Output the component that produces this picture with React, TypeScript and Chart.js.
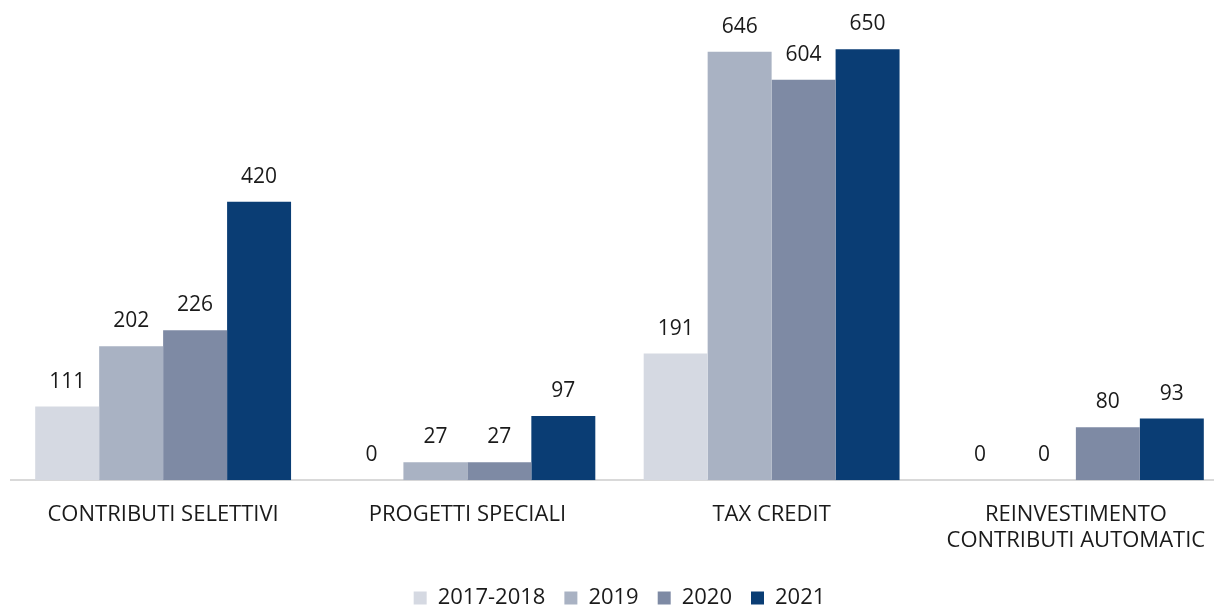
import React, { useEffect, useRef } from "react";
import { Chart, registerables } from "chart.js";

Chart.register(...registerables);

const categories: (string | string[])[] = [
  "CONTRIBUTI SELETTIVI",
  "PROGETTI SPECIALI",
  "TAX CREDIT",
  ["REINVESTIMENTO", "CONTRIBUTI AUTOMATIC"],
];
const seriesNames = ["2017-2018", "2019", "2020", "2021"];
const values2017_2018 = [111, 0, 191, 0];
const values2019 = [202, 27, 646, 0];
const values2020 = [226, 27, 604, 80];
const values2021 = [420, 97, 650, 93];
const colors = ["#d5d9e2", "#a9b2c3", "#7e8aa4", "#0a3d74"];

const FONT = "'Open Sans', 'DejaVu Sans', sans-serif";

const valueLabels = {
  id: "valueLabels",
  afterDatasetsDraw(chart: any) {
    const ctx = chart.ctx;
    ctx.save();
    ctx.font = `21px ${FONT}`;
    ctx.fillStyle = "#1a1a1a";
    ctx.textAlign = "center";
    ctx.textBaseline = "middle";
    chart.data.datasets.forEach((ds: any, i: number) => {
      const meta = chart.getDatasetMeta(i);
      meta.data.forEach((bar: any, j: number) => {
        ctx.fillText(String(ds.data[j]), bar.x, bar.y - 25);
      });
    });
    ctx.restore();
  },
};

export default function App() {
  const ref = useRef<HTMLCanvasElement>(null);
  useEffect(() => {
    document.body.style.margin = "0";
    const data = [values2017_2018, values2019, values2020, values2021];
    const chart = new Chart(ref.current!, {
      type: "bar",
      data: {
        labels: categories,
        datasets: seriesNames.map((n, i) => ({
          label: n,
          data: data[i],
          backgroundColor: colors[i],
          borderWidth: 0,
          categoryPercentage: 0.841,
          barPercentage: 1,
        })),
      },
      options: {
        responsive: true,
        maintainAspectRatio: false,
        animation: false,
        layout: { padding: { left: 11, right: 12, top: 16, bottom: 0 } },
        plugins: {
          legend: {
            position: "bottom",
            labels: {
              boxWidth: 13,
              boxHeight: 13,
              color: "#1a1a1a",
              font: { family: FONT, size: 22 },
              padding: 19,
            },
          },
          tooltip: { enabled: false },
        },
        scales: {
          x: {
            grid: { display: false },
            border: { color: "#d9d9d9", width: 2 },
            ticks: {
              color: "#1a1a1a",
              font: { family: FONT, size: 22, lineHeight: 1.2 },
              padding: 13,
              maxRotation: 0,
              autoSkip: false,
            },
            afterFit: (scale: any) => {
              scale.height += 1;
            },
          },
          y: { display: false, min: 0, max: 700 },
        },
      },
      plugins: [valueLabels],
    });
    return () => chart.destroy();
  }, []);
  return (
    <div style={{ position: "absolute", left: 0, top: 0, width: 1214, height: 607, overflow: "hidden" }}>
      <div style={{ position: "relative", width: 1240, height: 619 }}>
        <canvas ref={ref} />
      </div>
    </div>
  );
}
